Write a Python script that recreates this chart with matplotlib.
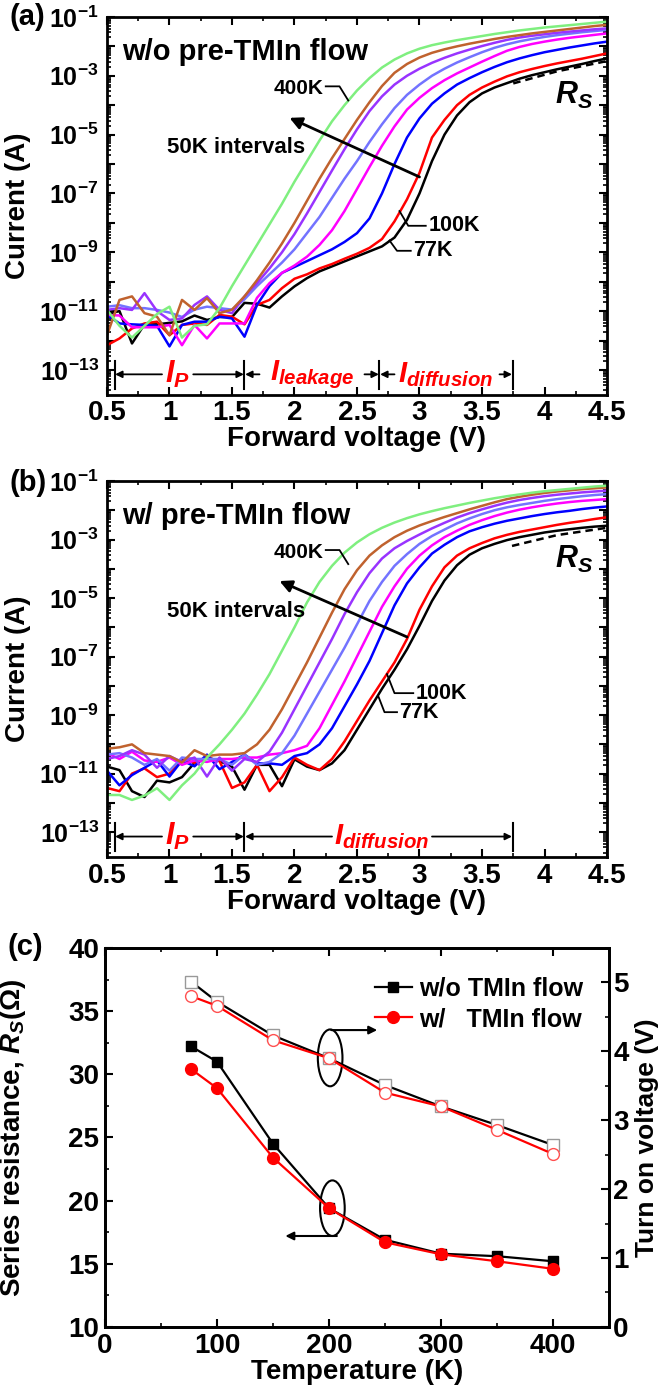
import matplotlib
matplotlib.use('Agg')
import matplotlib.pyplot as plt
import numpy as np
from matplotlib.patches import Ellipse
from matplotlib.ticker import FixedLocator, FuncFormatter, MultipleLocator

plt.rcParams['font.family'] = ['Liberation Sans', 'DejaVu Sans']
plt.rcParams['font.weight'] = 'bold'
plt.rcParams['axes.labelweight'] = 'bold'
plt.rcParams['mathtext.fontset'] = 'custom'
plt.rcParams['mathtext.rm'] = 'Liberation Sans:bold'
plt.rcParams['mathtext.bf'] = 'Liberation Sans:bold'
plt.rcParams['mathtext.it'] = 'Liberation Sans:italic:bold'
plt.rcParams['axes.linewidth'] = 2

# forward voltage (V)
voltage = [0.5, 0.6, 0.7, 0.8, 0.9, 1.0, 1.1, 1.2, 1.3, 1.4, 1.5, 1.6, 1.7, 1.8,
           1.9, 2.0, 2.1, 2.2, 2.3, 2.4, 2.5, 2.6, 2.7, 2.8, 2.9, 3.0, 3.1, 3.2,
           3.3, 3.4, 3.5, 3.6, 3.7, 3.8, 3.9, 4.0, 4.1, 4.2, 4.3, 4.4, 4.5]

temps = ['77K', '100K', '150K', '200K', '250K', '300K', '350K', '400K']
colors = ['#000000', '#FF0000', '#0000FF', '#FF00FF', '#7373FF', '#9933FF',
          '#C0622E', '#7FEF7F']

# (a) w/o pre-TMIn flow : log10 of current (A)
a_77K = [-11.1, -11.0, -12.1, -11.45, -11.45, -11.4, -11.35, -11.15, -11.3, -11.2,
         -11.2, -10.72, -10.75, -10.88, -10.5, -10.16, -9.88, -9.65, -9.48, -9.31,
         -9.14, -8.97, -8.8, -8.5, -7.9, -7.0, -5.9, -5.0, -4.35, -3.9,
         -3.6, -3.4, -3.25, -3.1, -2.98, -2.88, -2.78, -2.69, -2.6, -2.5, -2.41]
a_100K = [-12.16, -11.93, -11.59, -11.42, -11.36, -11.82, -11.47, -11.42, -11.47, -11.13,
          -11.19, -11.45, -10.79, -10.62, -10.22, -9.9, -9.75, -9.55, -9.4, -9.22,
          -9.05, -8.85, -8.55, -7.95, -7.2, -6.3, -5.1, -4.5, -4.0, -3.65,
          -3.4, -3.2, -3.02, -2.88, -2.77, -2.67, -2.58, -2.5, -2.42, -2.33, -2.24]
a_150K = [-11.13, -11.42, -11.45, -11.47, -11.5, -12.2, -11.47, -11.36, -11.36, -11.19,
          -11.25, -11.87, -10.79, -10.15, -9.7, -9.5, -9.3, -9.1, -8.9, -8.65,
          -8.35, -7.85, -7.0, -6.0, -5.1, -4.45, -3.95, -3.6, -3.3, -3.08,
          -2.88, -2.7, -2.54, -2.41, -2.3, -2.2, -2.12, -2.04, -1.97, -1.9, -1.84]
a_200K = [-11.13, -11.15, -11.55, -11.55, -11.55, -11.47, -12.16, -11.47, -11.93, -11.42,
          -11.42, -11.42, -10.55, -10.05, -9.7, -9.45, -9.15, -8.75, -8.25, -7.6,
          -6.85, -6.1, -5.38, -4.72, -4.15, -3.75, -3.42, -3.15, -2.92, -2.72,
          -2.52, -2.33, -2.15, -2.02, -1.92, -1.84, -1.77, -1.71, -1.66, -1.61, -1.56]
a_250K = [-10.85, -10.8, -10.9, -10.9, -10.96, -11.05, -11.2, -10.95, -10.85, -10.9,
          -10.95, -10.6, -10.15, -9.75, -9.35, -8.9, -8.35, -7.8, -7.15, -6.5,
          -5.9, -5.25, -4.65, -4.1, -3.65, -3.3, -3.0, -2.76, -2.55, -2.37,
          -2.2, -2.05, -1.93, -1.83, -1.75, -1.68, -1.62, -1.57, -1.52, -1.48, -1.44]
a_300K = [-10.96, -10.9, -10.96, -10.39, -11.0, -11.3, -11.25, -10.79, -10.5, -10.96,
          -11.07, -10.5, -10.05, -9.55, -9.0, -8.38, -7.68, -6.95, -6.22, -5.5,
          -4.82, -4.2, -3.7, -3.3, -3.0, -2.76, -2.56, -2.39, -2.24, -2.11,
          -1.99, -1.88, -1.78, -1.7, -1.64, -1.59, -1.54, -1.5, -1.46, -1.42, -1.39]
a_350K = [-11.82, -10.62, -10.5, -11.07, -11.19, -11.82, -10.62, -10.96, -10.56, -11.07,
          -10.95, -10.5, -9.95, -9.35, -8.7, -8.0, -7.25, -6.5, -5.8, -5.15,
          -4.5, -3.9, -3.35, -2.9, -2.6, -2.38, -2.22, -2.1, -2.0, -1.91,
          -1.83, -1.75, -1.68, -1.62, -1.56, -1.51, -1.46, -1.41, -1.36, -1.31, -1.27]
a_400K = [-10.96, -11.5, -11.9, -11.5, -11.1, -10.85, -11.9, -11.5, -11.45, -10.9,
          -10.15, -9.45, -8.75, -8.05, -7.35, -6.6, -5.9, -5.2, -4.55, -4.0,
          -3.5, -3.08, -2.72, -2.45, -2.24, -2.08, -1.96, -1.87, -1.79, -1.72,
          -1.65, -1.58, -1.52, -1.46, -1.41, -1.36, -1.32, -1.28, -1.24, -1.2, -1.16]

# (b) w/ pre-TMIn flow : log10 of current (A)
b_77K = [-10.76, -10.88, -11.6, -11.8, -11.24, -11.3, -11.12, -10.63, -10.45, -10.57,
         -10.76, -11.55, -10.7, -10.7, -11.43, -10.51, -10.76, -10.88, -10.65, -10.2,
         -9.5, -8.8, -8.1, -7.45, -6.75, -5.95, -5.1, -4.4, -3.88, -3.52,
         -3.3, -3.15, -3.02, -2.92, -2.84, -2.76, -2.7, -2.65, -2.6, -2.56, -2.53]
b_100K = [-11.49, -11.6, -11.0, -10.82, -11.12, -11.0, -10.51, -10.63, -10.45, -10.57,
          -11.49, -11.3, -10.7, -11.6, -11.12, -10.45, -10.7, -10.88, -10.5, -9.9,
          -9.2, -8.5, -7.85, -7.2, -6.4, -5.4, -4.6, -3.95, -3.55, -3.3,
          -3.12, -2.96, -2.84, -2.74, -2.66, -2.58, -2.5, -2.43, -2.37, -2.3, -2.24]
b_150K = [-10.9, -11.4, -11.05, -10.8, -10.55, -11.1, -10.55, -10.75, -10.35, -10.85,
          -10.6, -10.35, -10.65, -10.65, -10.7, -10.4, -10.3, -10.0, -9.45, -8.7,
          -7.95, -7.15, -6.2, -5.25, -4.5, -3.95, -3.48, -3.18, -2.92, -2.72,
          -2.58, -2.46, -2.36, -2.28, -2.2, -2.13, -2.07, -2.02, -1.96, -1.91, -1.87]
b_200K = [-10.3, -10.5, -10.25, -10.55, -10.6, -10.45, -10.7, -10.55, -10.6, -10.5,
          -10.5, -10.45, -10.45, -10.35, -10.3, -10.2, -10.05, -9.45, -8.65, -7.85,
          -7.0, -6.15, -5.3, -4.6, -4.0, -3.55, -3.2, -2.92, -2.7, -2.5,
          -2.34, -2.2, -2.08, -1.98, -1.9, -1.83, -1.77, -1.72, -1.68, -1.65, -1.62]
b_250K = [-10.35, -10.3, -10.45, -10.7, -10.5, -10.9, -10.45, -10.5, -10.5, -10.5,
          -10.7, -10.35, -10.7, -10.6, -10.3, -9.7, -8.95, -8.2, -7.45, -6.7,
          -5.9, -5.1, -4.45, -3.9, -3.5, -3.15, -2.88, -2.66, -2.45, -2.28,
          -2.13, -2.0, -1.9, -1.82, -1.75, -1.68, -1.62, -1.57, -1.52, -1.48, -1.45]
b_300K = [-10.5, -10.4, -10.2, -10.35, -10.8, -10.4, -10.6, -10.45, -11.1, -10.45,
          -10.9, -10.5, -10.6, -10.25, -9.6, -8.8, -8.0, -7.2, -6.4, -5.55,
          -4.8, -4.15, -3.65, -3.3, -3.05, -2.83, -2.62, -2.43, -2.25, -2.1,
          -1.97, -1.85, -1.74, -1.65, -1.58, -1.52, -1.47, -1.43, -1.39, -1.36, -1.33]
b_350K = [-10.15, -10.1, -10.0, -10.3, -10.35, -10.4, -10.62, -10.2, -10.4, -10.35,
          -10.35, -10.3, -10.0, -9.5, -8.8, -8.0, -7.2, -6.35, -5.5, -4.7,
          -4.05, -3.55, -3.2, -2.92, -2.7, -2.52, -2.37, -2.23, -2.1, -1.97,
          -1.85, -1.73, -1.62, -1.54, -1.47, -1.41, -1.36, -1.32, -1.28, -1.25, -1.22]
b_400K = [-11.73, -11.73, -11.9, -11.75, -11.5, -11.9, -11.4, -11.0, -10.45, -10.0,
          -9.5, -8.95, -8.3, -7.6, -6.8, -6.0, -5.15, -4.45, -3.9, -3.45,
          -3.1, -2.82, -2.6, -2.42, -2.27, -2.14, -2.03, -1.93, -1.84, -1.75,
          -1.67, -1.59, -1.52, -1.46, -1.4, -1.35, -1.31, -1.27, -1.23, -1.19, -1.16]

# (c) series resistance (ohm) and turn-on voltage (V) vs temperature
temperature = [77, 100, 150, 200, 250, 300, 350, 400]
rs_without = [32.2, 31.0, 24.5, 19.4, 16.9, 15.8, 15.6, 15.2]
rs_with = [30.4, 28.9, 23.4, 19.4, 16.7, 15.75, 15.2, 14.6]
von_without = [5.01, 4.72, 4.23, 3.9, 3.51, 3.2, 2.93, 2.64]
von_with = [4.8, 4.66, 4.16, 3.9, 3.4, 3.2, 2.86, 2.51]

RED = '#FF0000'


def log_label(y, pos):
    e = int(round(np.log10(y)))
    return r'$\mathbf{10^{%d}}$' % e if e % 2 else ''


def arrow(ax, x0, x1, y, lw=1.3, ms=10):
    ax.annotate('', xy=(x1, y), xytext=(x0, y),
                arrowprops=dict(arrowstyle='-|>', color='k', lw=lw,
                                mutation_scale=ms, shrinkA=0, shrinkB=0))


def iv_panel(ax, curves, title):
    v = np.array(voltage)
    for vals, c in zip(curves, colors):
        ax.plot(v, 10.0 ** np.array(vals), color=c, lw=1.8)
    ax.set_yscale('log')
    ax.set_xlim(0.5, 4.5)
    ax.set_ylim(10 ** -13.85, 10 ** -1)
    ax.yaxis.set_major_locator(FixedLocator([10.0 ** e for e in range(-14, 0)]))
    ax.yaxis.set_minor_locator(FixedLocator([m * 10.0 ** e for e in range(-15, 0)
                                             for m in range(2, 10)]))
    ax.yaxis.set_major_formatter(FuncFormatter(log_label))
    ax.yaxis.set_minor_formatter(FuncFormatter(lambda y, p: ''))
    ax.xaxis.set_major_locator(MultipleLocator(0.5))
    ax.xaxis.set_minor_locator(MultipleLocator(0.25))
    ax.xaxis.set_major_formatter(FuncFormatter(lambda x, p: '%g' % x))
    ax.tick_params(which='both', direction='in', top=True, right=True)
    ax.tick_params(which='major', length=6, width=1.5)
    ax.tick_params(which='minor', length=3, width=1.2)
    ax.tick_params(axis='x', labelsize=20, pad=4)
    ax.tick_params(axis='y', labelsize=18, pad=6)
    ax.set_xlabel('Forward voltage (V)', fontsize=20, labelpad=0)
    ax.set_ylabel('Current (A)', fontsize=20)
    ax.yaxis.set_label_coords(-0.152, 0.5)
    ax.text(0.62, 10 ** -2.2, title, fontsize=21, va='center')
    # temperature labels
    ax.text(2.235, 10 ** -3.43, '400K', fontsize=15, ha='right', va='center')
    ax.plot([2.25, 2.36, 2.43], [10 ** -3.36, 10 ** -3.36, 10 ** -3.84], 'k', lw=1.3)
    ax.text(1.53, 10 ** -5.45, '50K intervals', fontsize=16, ha='center', va='center')
    ax.text(4.08, 10 ** -3.67, r'$R_S$', fontsize=22, va='center')
    # region markers
    row = 10 ** -13.15
    for xb in (0.565, 1.6):
        ax.plot([xb, xb], [10 ** -12.7, 10 ** -13.65], 'k', lw=1.5)
    arrow(ax, 0.94, 0.565, row)
    arrow(ax, 1.19, 1.595, row)
    ax.text(1.065, row, r'$I_P$', color=RED, fontsize=22, ha='center', va='center')


fig = plt.figure(figsize=(6.58, 13.99), dpi=100)
ax_a = fig.add_axes([0.1626, 0.7177, 0.7599, 0.2702])
ax_b = fig.add_axes([0.1626, 0.3874, 0.7599, 0.2688])
ax_c = fig.add_axes([0.1596, 0.0515, 0.7660, 0.2709])

# ---- (a)
iv_panel(ax_a, [a_77K, a_100K, a_150K, a_200K, a_250K, a_300K, a_350K, a_400K],
         'w/o pre-TMIn flow')
ax_a.annotate('', xy=(1.96, 10 ** -4.43), xytext=(3.0, 10 ** -6.44),
              arrowprops=dict(arrowstyle='-|>', color='k', lw=2, mutation_scale=18,
                              shrinkA=0, shrinkB=0))
ax_a.plot([2.84, 2.91, 3.05], [10 ** -7.6, 10 ** -8.1, 10 ** -8.1], 'k', lw=1.3)
ax_a.text(3.07, 10 ** -8.1, '100K', fontsize=15.5, va='center')
ax_a.plot([2.76, 2.82, 2.93], [10 ** -8.6, 10 ** -8.95, 10 ** -8.95], 'k', lw=1.3)
ax_a.text(2.95, 10 ** -8.95, '77K', fontsize=15.5, va='center')
ax_a.plot([3.75, 4.1, 4.5], [10 ** -3.26, 10 ** -2.85, 10 ** -2.5], 'k',
          ls=(0, (3, 2)), lw=1.8)
row = 10 ** -13.15
for xb in (2.68, 3.745):
    ax_a.plot([xb, xb], [10 ** -12.7, 10 ** -13.65], 'k', lw=1.5)
arrow(ax_a, 1.72, 1.605, row)
arrow(ax_a, 2.56, 2.675, row)
arrow(ax_a, 2.8, 2.685, row)
arrow(ax_a, 3.64, 3.74, row)
ax_a.text(2.14, row, r'$I_{leakage}$', color=RED, fontsize=21, ha='center', va='center')
ax_a.text(3.21, row, r'$I_{diffusion}$', color=RED, fontsize=21, ha='center', va='center')

# ---- (b)
iv_panel(ax_b, [b_77K, b_100K, b_150K, b_200K, b_250K, b_300K, b_350K, b_400K],
         'w/ pre-TMIn flow')
ax_b.annotate('', xy=(1.88, 10 ** -4.42), xytext=(2.9, 10 ** -6.33),
              arrowprops=dict(arrowstyle='-|>', color='k', lw=2, mutation_scale=18,
                              shrinkA=0, shrinkB=0))
ax_b.plot([2.74, 2.8, 2.95], [10 ** -7.6, 10 ** -8.25, 10 ** -8.25], 'k', lw=1.3)
ax_b.text(2.97, 10 ** -8.25, '100K', fontsize=15.5, va='center')
ax_b.plot([2.67, 2.72, 2.82], [10 ** -8.35, 10 ** -8.9, 10 ** -8.9], 'k', lw=1.3)
ax_b.text(2.84, 10 ** -8.9, '77K', fontsize=15.5, va='center')
ax_b.plot([3.74, 4.1, 4.5], [10 ** -3.22, 10 ** -2.85, 10 ** -2.6], 'k',
          ls=(0, (3, 2)), lw=1.8)
ax_b.plot([3.745, 3.745], [10 ** -12.7, 10 ** -13.65], 'k', lw=1.5)
arrow(ax_b, 2.3, 1.605, row)
arrow(ax_b, 3.1, 3.74, row)
ax_b.text(2.7, row, r'$I_{diffusion}$', color=RED, fontsize=21, ha='center', va='center')

# ---- (c)
ax_r = ax_c.twinx()
l1, = ax_c.plot(temperature, rs_without, color='k', lw=1.6, marker='s', ms=7.5,
                mfc='k', mec='k')
l2, = ax_c.plot(temperature, rs_with, color=RED, lw=1.6, marker='o', ms=8.5,
                mfc=RED, mec=RED)
ax_r.plot(temperature, von_without, color='k', lw=1.6, marker='s', ms=8.5,
          mfc='white', mec='#999999')
ax_r.plot(temperature, von_with, color=RED, lw=1.6, marker='o', ms=8.5,
          mfc='white', mec='#FF5050')
ax_c.set_xlim(0, 450)
ax_c.set_ylim(10, 40)
ax_r.set_ylim(0, 5.5)
ax_c.xaxis.set_major_locator(MultipleLocator(100))
ax_c.xaxis.set_minor_locator(MultipleLocator(50))
ax_c.yaxis.set_major_locator(MultipleLocator(5))
ax_c.yaxis.set_minor_locator(MultipleLocator(2.5))
ax_r.yaxis.set_major_locator(MultipleLocator(1))
ax_r.yaxis.set_minor_locator(MultipleLocator(0.5))
ax_c.tick_params(which='both', direction='in', top=True)
ax_r.tick_params(which='both', direction='in')
for a in (ax_c, ax_r):
    a.tick_params(which='major', length=6, width=1.5, labelsize=20, pad=4)
    a.tick_params(which='minor', length=3, width=1.2)
ax_r.tick_params(which='major', pad=3)
ax_c.set_xlabel('Temperature (K)', fontsize=20, labelpad=0)
ax_c.set_ylabel(r'Series resistance, $R_S$(Ω)', fontsize=20)
ax_c.yaxis.set_label_coords(-0.152, 0.5)
ax_r.set_ylabel('Turn on voltage (V)', fontsize=19)
ax_r.yaxis.set_label_coords(1.052, 0.5)
ax_c.legend([l1, l2], ['w/o TMIn flow', 'w/   TMIn flow'], loc='upper left',
            bbox_to_anchor=(0.5, 0.97), frameon=False, fontsize=18,
            handlelength=1.5, handletextpad=0.3, labelspacing=0.25, borderpad=0.2)
ax_c.add_patch(Ellipse((201, 31.3), 22, 4.5, fill=False, lw=1.5, color='k'))
ax_c.add_patch(Ellipse((203, 19.4), 22, 4.4, fill=False, lw=1.5, color='k'))
ax_c.annotate('', xy=(243, 33.5), xytext=(202, 33.5),
              arrowprops=dict(arrowstyle='-|>', color='k', lw=1.5, mutation_scale=12,
                              shrinkA=0, shrinkB=0))
ax_c.annotate('', xy=(161, 17.2), xytext=(207, 17.2),
              arrowprops=dict(arrowstyle='-|>', color='k', lw=1.5, mutation_scale=12,
                              shrinkA=0, shrinkB=0))

fig.text(0.015, 1 - 17 / 1399, '(a)', fontsize=21, va='center')
fig.text(0.015, 1 - 483 / 1399, '(b)', fontsize=21, va='center')
fig.text(0.012, 1 - 947 / 1399, '(c)', fontsize=21, va='center')

fig.savefig('out.png', dpi=100)
